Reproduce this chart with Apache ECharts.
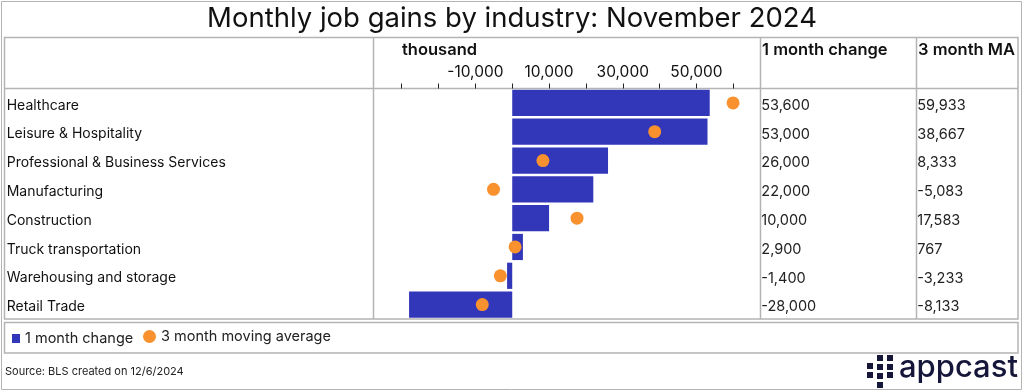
<!DOCTYPE html>
<html>
<head>
<meta charset="utf-8">
<script src="https://cdn.jsdelivr.net/npm/echarts@6/dist/echarts.min.js"></script>
<style>html,body{margin:0;padding:0;background:#fff}#c{width:1024px;height:392px}</style>
</head>
<body>
<div id="c"></div>
<script>
const categories = ['Healthcare','Leisure & Hospitality','Professional & Business Services','Manufacturing','Construction','Truck transportation','Warehousing and storage','Retail Trade'];
const oneMonthChange = [53600, 53000, 26000, 22000, 10000, 2900, -1400, -28000];
const threeMonthMA = [59933, 38667, 8333, -5083, 17583, 767, -3233, -8133];
const tickLabels = [-10000, 10000, 30000, 50000];

const FONT = 'Inter, "Noto Sans", sans-serif';
const fmt = v => v.toLocaleString('en-US');
const LINE = '#b4b4b4';
const rowRich = (size, color) => ({r: {fontFamily: FONT, fontSize: size, color: color, padding: [5, 0, 0, 0]}});

const chart = echarts.init(document.getElementById('c'), null, {renderer: 'canvas'});
chart.setOption({
  backgroundColor: '#fff',
  animation: false,
  textStyle: {fontFamily: FONT},
  title: [
    {text: 'Monthly job gains by industry: November 2024', left: 'center', top: 5, padding: 0,
     textStyle: {fontFamily: FONT, fontSize: 27.5, fontWeight: 400, color: '#111'}},
    {text: 'thousand', left: 402, top: 42, padding: 0, textStyle: {fontFamily: FONT, fontSize: 16.5, fontWeight: 600, color: '#111'}},
    {text: '1 month change', left: 762, top: 42, padding: 0, textStyle: {fontFamily: FONT, fontSize: 16.5, fontWeight: 600, color: '#111'}},
    {text: '3 month MA', left: 918, top: 42, padding: 0, textStyle: {fontFamily: FONT, fontSize: 16.5, fontWeight: 600, color: '#111'}},
    {text: 'Source: BLS created on 12/6/2024', left: 5, top: 366, padding: 0, textStyle: {fontFamily: FONT, fontSize: 11, fontWeight: 400, color: '#222'}}
  ],
  legend: [
    {data: ['1 month change'], left: 12, top: 331, padding: 0, itemWidth: 8, itemHeight: 9, icon: 'rect',
     textStyle: {fontFamily: FONT, fontSize: 14.5, color: '#222'}},
    {data: ['3 month moving average'], left: 143, top: 329, padding: 0, itemWidth: 13, itemHeight: 13, icon: 'circle',
     textStyle: {fontFamily: FONT, fontSize: 14.5, color: '#222'}}
  ],
  grid: {left: 401.7, right: 290.7, top: 88.5, bottom: 73, containLabel: false},
  xAxis: {
    type: 'value', position: 'top', min: -30000, max: 60000, interval: 10000,
    axisLine: {show: false}, splitLine: {show: false},
    axisTick: {show: true, length: 5, lineStyle: {color: '#222', width: 1}},
    axisLabel: {show: true, margin: 8, fontFamily: FONT, fontSize: 15.5, color: '#111',
      formatter: v => tickLabels.includes(v) ? fmt(v) : ''}
  },
  yAxis: [
    {type: 'category', data: categories, inverse: true, position: 'left',
     axisLine: {show: false}, axisTick: {show: false},
     axisLabel: {align: 'left', margin: 395, formatter: v => '{r|' + v + '}', rich: rowRich(14, '#111')}},
    {type: 'category', data: categories, inverse: true, position: 'right', offset: 0,
     axisLine: {show: false}, axisTick: {show: false},
     axisLabel: {align: 'left', margin: 28, rich: rowRich(14.5, '#222'),
       formatter: (v, i) => '{r|' + fmt(oneMonthChange[i]) + '}'}},
    {type: 'category', data: categories, inverse: true, position: 'right', offset: 0,
     axisLine: {show: false}, axisTick: {show: false},
     axisLabel: {align: 'left', margin: 184, rich: rowRich(14.5, '#222'),
       formatter: (v, i) => '{r|' + fmt(threeMonthMA[i]) + '}'}}
  ],
  series: [
    {name: '1 month change', type: 'bar', data: oneMonthChange, yAxisIndex: 0,
     barCategoryGap: '9%', itemStyle: {color: '#3236B9'}, z: 2},
    {name: '3 month moving average', type: 'scatter', data: threeMonthMA, yAxisIndex: 0,
     symbol: 'circle', symbolSize: 13, itemStyle: {color: '#F8912E', opacity: 1}, clip: false, z: 3}
  ],
  graphic: [
    {type: 'rect', shape: {x: 1.5, y: 1.5, width: 1020, height: 388}, style: {fill: 'none', stroke: LINE, lineWidth: 1}, silent: true},
    {type: 'rect', shape: {x: 4.5, y: 37.5, width: 1013.5, height: 281.5}, style: {fill: 'none', stroke: LINE, lineWidth: 1.5}, silent: true},
    {type: 'line', shape: {x1: 4.5, y1: 88.5, x2: 1018, y2: 88.5}, style: {stroke: LINE, lineWidth: 1.5}, silent: true},
    {type: 'line', shape: {x1: 373.5, y1: 37.5, x2: 373.5, y2: 319}, style: {stroke: LINE, lineWidth: 1.5}, silent: true},
    {type: 'line', shape: {x1: 760.5, y1: 37.5, x2: 760.5, y2: 319}, style: {stroke: LINE, lineWidth: 1.5}, silent: true},
    {type: 'line', shape: {x1: 916.5, y1: 37.5, x2: 916.5, y2: 319}, style: {stroke: LINE, lineWidth: 1.5}, silent: true},
    {type: 'rect', shape: {x: 4.5, y: 322.5, width: 1013.5, height: 30.5}, style: {fill: 'none', stroke: LINE, lineWidth: 1.5}, silent: true},
    {type: 'group', left: 867, top: 355, silent: true, children: [
      {type: 'rect', shape: {x: 0, y: 8, width: 6, height: 6}, style: {fill: '#15163a'}},
      {type: 'rect', shape: {x: 0, y: 17, width: 6, height: 6}, style: {fill: '#15163a'}},
      {type: 'rect', shape: {x: 10, y: 0, width: 6, height: 6}, style: {fill: '#15163a'}},
      {type: 'rect', shape: {x: 10, y: 9, width: 6, height: 6}, style: {fill: '#15163a'}},
      {type: 'rect', shape: {x: 10, y: 18, width: 6, height: 6}, style: {fill: '#15163a'}},
      {type: 'rect', shape: {x: 10, y: 27, width: 6, height: 6}, style: {fill: '#15163a'}},
      {type: 'rect', shape: {x: 20, y: 0, width: 6, height: 6}, style: {fill: '#15163a'}},
      {type: 'rect', shape: {x: 20, y: 9, width: 6, height: 6}, style: {fill: '#15163a'}},
      {type: 'rect', shape: {x: 20, y: 17, width: 6, height: 6}, style: {fill: '#15163a'}}
    ]},
    {type: 'text', left: 899, top: 352, silent: true,
     style: {text: 'appcast', fontFamily: FONT, fontSize: 31, fontWeight: 500, fill: '#15163a'}}
  ]
});
</script>
</body>
</html>
